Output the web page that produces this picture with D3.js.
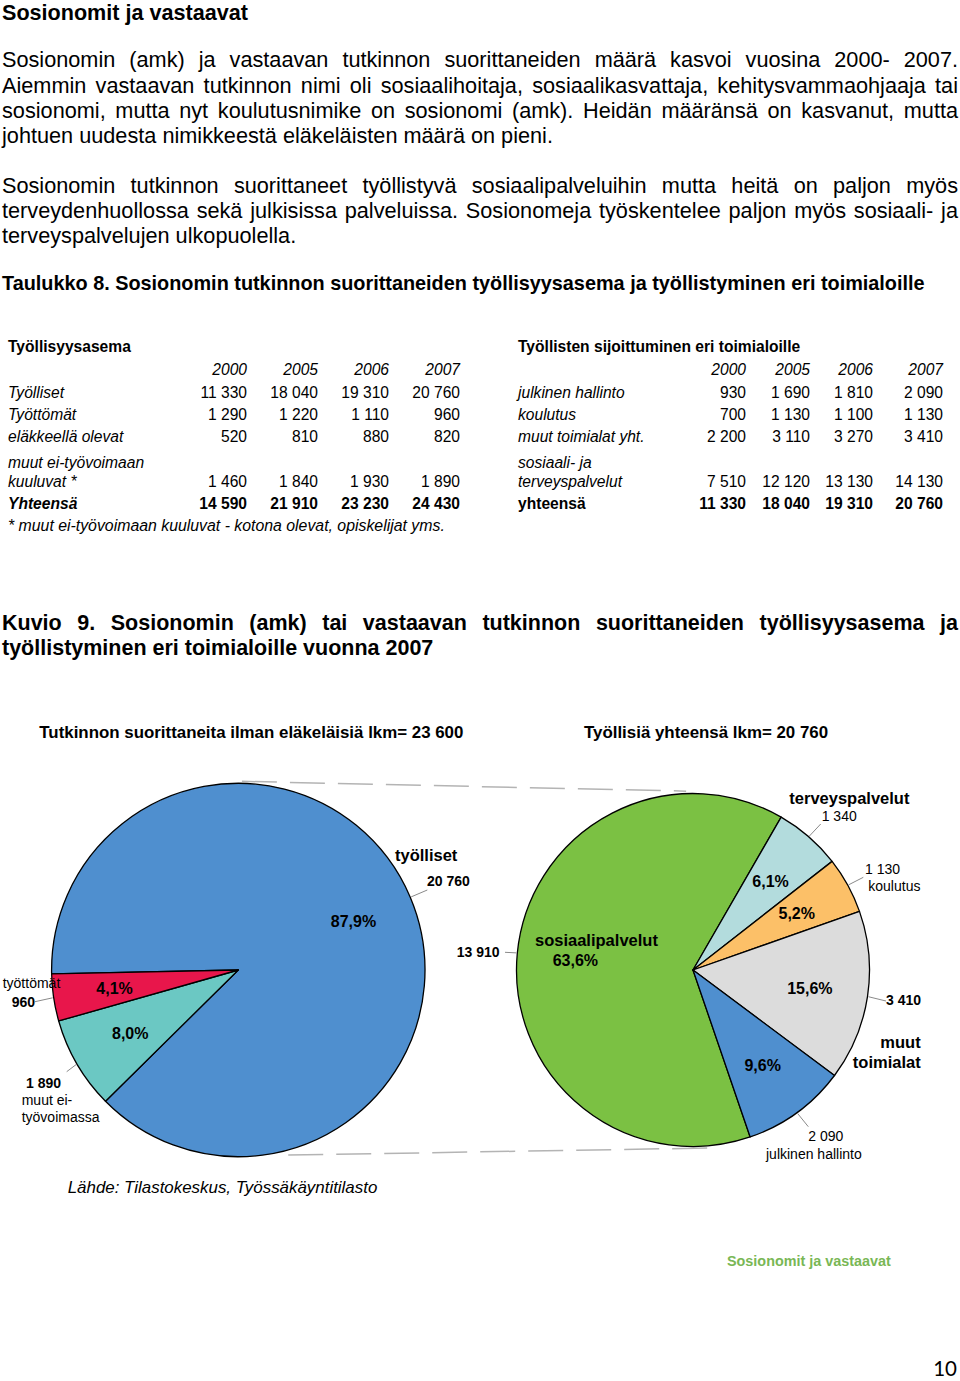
<!DOCTYPE html>
<html><head><meta charset="utf-8">
<script src="https://cdn.jsdelivr.net/npm/d3@7"></script>
<style>body{margin:0;background:#fff} svg{display:block}</style>
</head><body><svg id="c" width="960" height="1381"></svg>
<script>
// ---------------- DATA ----------------
const pageTitle = "Sosionomit ja vastaavat";
const para1 = [
  "Sosionomin (amk) ja vastaavan tutkinnon suorittaneiden määrä kasvoi vuosina 2000- 2007.",
  "Aiemmin vastaavan tutkinnon nimi oli sosiaalihoitaja, sosiaalikasvattaja, kehitysvammaohjaaja tai",
  "sosionomi, mutta nyt koulutusnimike on sosionomi (amk). Heidän määränsä on kasvanut, mutta",
  "johtuen uudesta nimikkeestä eläkeläisten määrä on pieni."
];
const para2 = [
  "Sosionomin tutkinnon suorittaneet työllistyvä sosiaalipalveluihin mutta heitä on paljon myös",
  "terveydenhuollossa sekä julkisissa palveluissa. Sosionomeja työskentelee paljon myös sosiaali- ja",
  "terveyspalvelujen ulkopuolella."
];
const tableCaption = "Taulukko 8. Sosionomin tutkinnon suorittaneiden työllisyysasema ja työllistyminen eri toimialoille";
const years = ["2000", "2005", "2006", "2007"];
const statusTitle = "Työllisyysasema";
const statusRows = [["Työlliset"], ["Työttömät"], ["eläkkeellä olevat"], ["muut ei-työvoimaan", "kuuluvat *"], ["Yhteensä"]];
const statusValues = [
  [11330, 18040, 19310, 20760],
  [1290, 1220, 1110, 960],
  [520, 810, 880, 820],
  [1460, 1840, 1930, 1890],
  [14590, 21910, 23230, 24430]
];
const statusNote = "* muut ei-työvoimaan kuuluvat - kotona olevat, opiskelijat yms.";
const sectorTitle = "Työllisten sijoittuminen eri toimialoille";
const sectorRows = [["julkinen hallinto"], ["koulutus"], ["muut toimialat yht."], ["sosiaali- ja", "terveyspalvelut"], ["yhteensä"]];
const sectorValues = [
  [930, 1690, 1810, 2090],
  [700, 1130, 1100, 1130],
  [2200, 3110, 3270, 3410],
  [7510, 12120, 13130, 14130],
  [11330, 18040, 19310, 20760]
];
const figCaption = [
  "Kuvio 9. Sosionomin (amk) tai vastaavan tutkinnon suorittaneiden työllisyysasema ja",
  "työllistyminen eri toimialoille vuonna 2007"
];
const pie1Title = "Tutkinnon suorittaneita ilman eläkeläisiä lkm= 23 600";
const pie1Names = ["työlliset", "muut ei-työvoimassa", "työttömät"];
const pie1Values = [20760, 1890, 960];
const pie2Title = "Työllisiä yhteensä lkm= 20 760";
const pie2Names = ["sosiaalipalvelut", "terveyspalvelut", "koulutus", "muut toimialat", "julkinen hallinto"];
const pie2Values = [13910, 1340, 1130, 3410, 2090];
const sourceText = "Lähde: Tilastokeskus, Työssäkäyntitilasto";
const footerText = "Sosionomit ja vastaavat";
const pageNumber = "10";

// ---------------- STYLE / LAYOUT ----------------
const FONT = '"Liberation Sans", Arial, Helvetica, sans-serif';
const pie1Colors = ["#4F8FCF", "#6BC8C3", "#E8164B"];
const pie2Colors = ["#7BC143", "#B3DCDD", "#FCC068", "#DCDCDC", "#4F8FCF"];
const fi = d3.formatLocale({decimal: ",", thousands: " ", grouping: [3], currency: ["", " €"]});
const fmtN = fi.format(",d");
const fmtP = fi.format(".1%");
const rad = d => d * Math.PI / 180;

const svg = d3.select("#c");
svg.append("rect").attr("width", 960).attr("height", 1381).attr("fill", "#fff");

function addText(g, t, x, y, o = {}) {
  const size = o.size || 14;
  const el = g.append("text").attr("x", x).attr("y", y).text(t)
    .style("font-family", o.family || FONT).style("font-size", size + "px")
    .style("font-weight", o.weight || "normal").style("font-style", o.style || "normal")
    .attr("fill", o.fill || "#000").attr("text-anchor", o.anchor || "start");
  if (o.fit) {
    const w = el.node().getComputedTextLength();
    el.style("font-size", (size * o.fit / w) + "px");
  }
  return el;
}
function justifyLine(g, str, x0, x1, y, o) {
  const words = str.split(" ");
  const els = words.map(w => addText(g, w, 0, y, o));
  const ws = els.map(e => e.node().getComputedTextLength());
  const gap = (x1 - x0 - d3.sum(ws)) / (words.length - 1);
  let x = x0;
  els.forEach((e, i) => { e.attr("x", x); x += ws[i] + gap; });
}

// ---------------- TEXT ----------------
const gt = svg.append("g");
addText(gt, pageTitle, 2, 20, {size: 21.5, weight: "bold", fit: 246});
const bodyOpt = {size: 21.7};
const p1y = [67, 92.5, 117.5, 142.5];
para1.forEach((l, i) => {
  if (i < para1.length - 1) justifyLine(gt, l, 2, 958, p1y[i], bodyOpt);
  else addText(gt, l, 2, p1y[i], bodyOpt);
});
const p2y = [192.5, 217.5, 242.5];
para2.forEach((l, i) => {
  if (i < para2.length - 1) justifyLine(gt, l, 2, 958, p2y[i], bodyOpt);
  else addText(gt, l, 2, p2y[i], bodyOpt);
});
addText(gt, tableCaption, 2, 290, {size: 18.5, weight: "bold", fit: 923});

// ---------------- TABLES ----------------
const tSize = 15.6;
const rowY = [397.5, 420, 442.3, 486.7, 509];
function drawTable(x0, cols, title, rows, values, italicLabels) {
  const g = svg.append("g");
  addText(g, title, x0, 352, {size: tSize, weight: "bold"});
  years.forEach((yv, j) => addText(g, yv, cols[j], 375, {size: tSize, style: "italic", anchor: "end"}));
  rows.forEach((lab, i) => {
    const last = i === rows.length - 1;
    lab.forEach((s, k) => addText(g, s, x0, rowY[i] - (lab.length - 1 - k) * 18.4,
      {size: tSize, style: italicLabels ? "italic" : (last ? "normal" : "italic"), weight: last ? "bold" : "normal"}));
    values[i].forEach((v, j) => addText(g, fmtN(v), cols[j], rowY[i],
      {size: tSize, anchor: "end", weight: last ? "bold" : "normal"}));
  });
}
drawTable(8, [247, 318, 389, 460], statusTitle, statusRows, statusValues, true);
drawTable(518, [746, 810, 873, 943], sectorTitle, sectorRows, sectorValues, false);
addText(svg, statusNote, 8, 531, {size: tSize, style: "italic", fit: 437});

// figure caption
justifyLine(svg, figCaption[0], 2, 958, 630, {size: 21.5, weight: "bold"});
addText(svg, figCaption[1], 2, 655, {size: 21.5, weight: "bold"});

// ---------------- PIES ----------------
const P1 = {cx: 238.3, cy: 970, r: 186.7, start: 268.8};
const P2 = {cx: 693, cy: 970, r: 176.5, start: 161.1};
const polar = (P, a, rr) => [P.cx + rr * Math.sin(rad(a)), P.cy - rr * Math.cos(rad(a))];

addText(svg, pie1Title, 39.3, 737.7, {size: 16.8, weight: "bold", fit: 424});
addText(svg, pie2Title, 584, 737.7, {size: 16.8, weight: "bold", fit: 244});

// dashed connectors (drawn under pies)
const connectors = [
  {a1: 1.1, o1: 2, a2: -2.2, o2: 2.5},
  {a1: 164.9, o1: 5, a2: 173.9, o2: 2.5}
];
svg.append("g").selectAll("line").data(connectors).join("line")
  .attr("x1", d => polar(P1, d.a1, P1.r + d.o1)[0]).attr("y1", d => polar(P1, d.a1, P1.r + d.o1)[1])
  .attr("x2", d => polar(P2, d.a2, P2.r + d.o2)[0]).attr("y2", d => polar(P2, d.a2, P2.r + d.o2)[1])
  .attr("stroke", "#b4b4b4").attr("stroke-width", 1.5).attr("stroke-dasharray", "35,13");

function drawPie(P, values, colors) {
  const arcs = d3.pie().sort(null).value(d => d)
    .startAngle(rad(P.start)).endAngle(rad(P.start) + 2 * Math.PI)(values);
  const arc = d3.arc().innerRadius(0).outerRadius(P.r);
  const g = svg.append("g").attr("transform", `translate(${P.cx},${P.cy})`);
  g.selectAll("path").data(arcs).join("path")
    .attr("d", arc).attr("fill", (d, i) => colors[i])
    .attr("stroke", "#000").attr("stroke-width", 1.3).attr("stroke-linejoin", "round");
  return {arcs, g};
}
const pie1 = drawPie(P1, pie1Values, pie1Colors);
const pie2 = drawPie(P2, pie2Values, pie2Colors);
const total1 = d3.sum(pie1Values), total2 = d3.sum(pie2Values);

// percentage labels (centroid at 0.67 r)
function pctLabels(P, pie, total, skip) {
  const la = d3.arc().innerRadius(P.r * 0.67).outerRadius(P.r * 0.67);
  pie.arcs.forEach((d, i) => {
    if (skip.includes(i)) return;
    const c = la.centroid(d);
    addText(svg, fmtP(d.value / total), P.cx + c[0], P.cy + c[1] + 5.8,
      {size: 16, weight: "bold", anchor: "middle"});
  });
}
pctLabels(P1, pie1, total1, []);
pctLabels(P2, pie2, total2, [0]);

// outside labels with leader lines
const midDeg = d => ((d.startAngle + d.endAngle) / 2) * 180 / Math.PI;
function annot(P, pie, idx, to, lines) {
  const d = pie.arcs[idx];
  const s = polar(P, midDeg(d), P.r + 1);
  svg.append("line").attr("x1", s[0]).attr("y1", s[1]).attr("x2", to[0]).attr("y2", to[1])
    .attr("stroke", "#8a8a8a").attr("stroke-width", 1);
  lines.forEach(l => addText(svg, l.t, l.x, l.y + (l.s || 14) * 0.36,
    {size: l.s || 14, weight: l.w || "normal", anchor: l.a || "start"}));
}
const v1 = i => fmtN(pie1Values[i]);
const v2 = i => fmtN(pie2Values[i]);
annot(P1, pie1, 0, [427.3, 890], [
  {t: pie1Names[0], x: 395, y: 855, s: 16.5, w: "bold"},
  {t: v1(0), x: 427, y: 881, w: "bold"}]);
annot(P1, pie1, 2, [35, 1001.7], [
  {t: pie1Names[2], x: 2.7, y: 983.3},
  {t: v1(2), x: 11.7, y: 1001.7, w: "bold"}]);
annot(P1, pie1, 1, [66.7, 1071.7], [
  {t: v1(1), x: 26, y: 1083.3, w: "bold"},
  {t: "muut ei-", x: 21.7, y: 1100},
  {t: "työvoimassa", x: 21.7, y: 1116.7}]);
annot(P2, pie2, 0, [505, 952.3], [
  {t: v2(0), x: 456.7, y: 951.7, w: "bold"}]);
annot(P2, pie2, 1, [820.7, 824], [
  {t: pie2Names[1], x: 789.3, y: 797.7, s: 16.5, w: "bold"},
  {t: v2(1), x: 821.7, y: 816}]);
annot(P2, pie2, 2, [863.3, 877.3], [
  {t: v2(2), x: 865, y: 869.3},
  {t: pie2Names[2], x: 868.3, y: 886}]);
annot(P2, pie2, 3, [886, 1001], [
  {t: v2(3), x: 886, y: 1000, w: "bold"},
  {t: "muut", x: 920.7, y: 1041.7, s: 16.5, w: "bold", a: "end"},
  {t: "toimialat", x: 920.7, y: 1061.7, s: 16.5, w: "bold", a: "end"}]);
annot(P2, pie2, 4, [808.3, 1126.7], [
  {t: v2(4), x: 808.3, y: 1136},
  {t: pie2Names[4], x: 766, y: 1154}]);
// inside label of the large slice
addText(svg, pie2Names[0], 535, 940 + 6, {size: 16.5, weight: "bold"});
addText(svg, fmtP(pie2Values[0] / total2), 552.7, 960 + 5.8, {size: 16, weight: "bold"});

// source, footer, page number
addText(svg, sourceText, 67.7, 1193, {size: 16.5, style: "italic", fit: 310});
addText(svg, footerText, 727, 1266, {size: 14.5, weight: "bold", fill: "#79B755", fit: 164});
addText(svg, pageNumber, 957, 1376, {size: 20.5, family: "Lato, 'Open Sans', sans-serif", anchor: "end"});
</script>
</body></html>
